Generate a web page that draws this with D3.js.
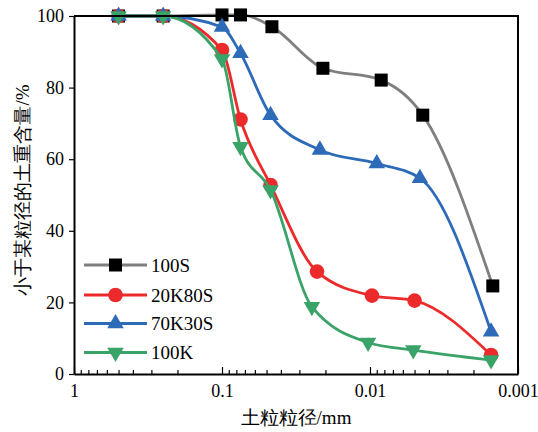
<!DOCTYPE html>
<html>
<head>
<meta charset="utf-8">
<script src="https://cdn.jsdelivr.net/npm/d3@7"></script>
<style>
  body { margin: 0; background: #fff; }
</style>
</head>
<body>
<svg></svg>
<script>
// Particle size distribution curves
const SVG = d3.select('svg');
const SVG_WIDTH = 538;
const SVG_HEIGHT = 432;
const LEFT = 74, RIGHT = 518, TOP = 16, BOTTOM = 374;
const FONT = 'serif';

// Data (particle size in mm, percent finer)
const seriesNames = ['100S', '20K80S', '70K30S', '100K'];
const size100S   = [0.5, 0.25, 0.1, 0.075, 0.046, 0.0208, 0.0084, 0.0044, 0.00148];
const pct100S    = [100, 100, 100.3, 100.3, 97, 85.4, 82.1, 72.3, 24.6];
const size20K80S = [0.5, 0.25, 0.1, 0.075, 0.047, 0.0228, 0.0097, 0.005, 0.00152];
const pct20K80S  = [100, 100, 90.5, 71.1, 52.8, 28.6, 21.9, 20.5, 5.3];
const size70K30S = [0.5, 0.25, 0.1, 0.075, 0.047, 0.0218, 0.009, 0.0046, 0.00152];
const pct70K30S  = [100, 100, 96.9, 89.6, 72.3, 62.6, 58.8, 54.7, 11.8];
const size100K   = [0.5, 0.25, 0.1, 0.075, 0.047, 0.0247, 0.0103, 0.0051, 0.00152];
const pct100K    = [100, 100, 88, 63.5, 51.4, 18.8, 8.8, 6.7, 3.9];
const xTickValues = [1, 0.1, 0.01, 0.001];
const yTickValues = [0, 20, 40, 60, 80, 100];

const lineColors = ['#7f7f7f', '#ec2a2b', '#2d6bb8', '#3aa367'];
const markerColors = ['#000000', '#ec2a2b', '#2d6bb8', '#3aa367'];
const markerTypes = ['square', 'circle', 'up', 'down'];

const allSeries = [
  { name: seriesNames[0], x: size100S, y: pct100S },
  { name: seriesNames[1], x: size20K80S, y: pct20K80S },
  { name: seriesNames[2], x: size70K30S, y: pct70K30S },
  { name: seriesNames[3], x: size100K, y: pct100K }
];

SVG.attr('width', SVG_WIDTH).attr('height', SVG_HEIGHT);

// Scales
var xScale = d3.scaleLog().domain([1, 0.001]).range([LEFT, RIGHT]);
var yScale = d3.scaleLinear().domain([0, 100]).range([BOTTOM, TOP]);

function marker(sel, type, color) {
  if (type === 'circle') {
    sel.append('circle').attr('r', 7.3).attr('fill', color);
  } else if (type === 'square') {
    sel.append('rect').attr('x', -6.5).attr('y', -6.5).attr('width', 13).attr('height', 13).attr('fill', color);
  } else {
    sel.append('path')
       .attr('d', d3.symbol().type(d3.symbolTriangle).size(118)())
       .attr('transform', type === 'down' ? 'rotate(180)' : null)
       .attr('fill', color);
  }
}

// Lines and markers
var line = d3.line()
  .x(d => xScale(d[0]))
  .y(d => yScale(d[1]))
  .curve(d3.curveMonotoneX);

allSeries.forEach((s, i) => {
  var pts = s.x.map((v, j) => [v, s.y[j]]).reverse();
  SVG.append('path')
     .attr('d', line(pts))
     .attr('fill', 'none')
     .attr('stroke', lineColors[i])
     .attr('stroke-width', 2.8);
  pts.forEach(p => {
    var g = SVG.append('g').attr('transform', `translate(${xScale(p[0])},${yScale(p[1])})`);
    marker(g, markerTypes[i], markerColors[i]);
  });
});

// Axes
var xAxis = d3.axisBottom(xScale)
  .tickValues(xScale.ticks())
  .tickSize(-5)
  .tickSizeOuter(0)
  .tickFormat(d => xTickValues.includes(d) ? String(d) : '');
var gx = SVG.append('g').attr('transform', `translate(0, ${BOTTOM})`).call(xAxis);
gx.attr('font-family', FONT).attr('font-size', 18);
gx.selectAll('.tick line').attr('y2', d => xTickValues.includes(d) ? -7 : -4).attr('stroke-width', 1.2);
gx.selectAll('.tick text').attr('y', 10).attr('dy', '0.71em');
gx.select('.domain').attr('stroke-width', 2);

var yAxis = d3.axisLeft(yScale).tickValues(yTickValues).tickSize(5).tickSizeOuter(0).tickPadding(5);
var gy = SVG.append('g').attr('transform', `translate(${LEFT}, 0)`).call(yAxis);
gy.attr('font-family', FONT).attr('font-size', 18);
gy.selectAll('.tick line').attr('stroke-width', 1.2);
gy.select('.domain').attr('stroke-width', 2);

// Frame top and right
SVG.append('path')
   .attr('d', `M${LEFT},${TOP}H${RIGHT}V${BOTTOM}`)
   .attr('fill', 'none')
   .attr('stroke', '#000')
   .attr('stroke-width', 2);

// Axis titles
SVG.append('text')
   .attr('x', (LEFT + RIGHT) / 2)
   .attr('y', 424)
   .attr('text-anchor', 'middle')
   .attr('font-family', FONT)
   .attr('font-size', 19)
   .text('土粒粒径/mm');

SVG.append('text')
   .attr('transform', 'rotate(-90)')
   .attr('x', -(TOP + BOTTOM) / 2 + 5)
   .attr('y', 29)
   .attr('text-anchor', 'middle')
   .attr('font-family', FONT)
   .attr('font-size', 19)
   .text('小于某粒径的土重含量/%');

// Legend
var legendY = [265, 295, 323.5, 352.5];
allSeries.forEach((s, i) => {
  var g = SVG.append('g').attr('transform', `translate(0, ${legendY[i]})`);
  g.append('line').attr('x1', 84).attr('x2', 147).attr('stroke', lineColors[i]).attr('stroke-width', 2.8);
  var m = g.append('g').attr('transform', 'translate(115.5, 0)');
  marker(m, markerTypes[i], markerColors[i]);
  g.append('text')
   .attr('x', 151)
   .attr('dy', '0.35em')
   .attr('font-family', FONT)
   .attr('font-size', 19)
   .text(s.name);
});
</script>
</body>
</html>
